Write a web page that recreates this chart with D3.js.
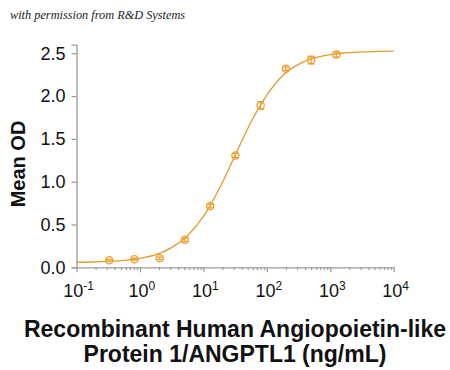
<!DOCTYPE html>
<html><head><meta charset="utf-8">
<script src="https://cdn.jsdelivr.net/npm/d3@7"></script>
<style>body{margin:0;background:#fff}svg{display:block}</style>
</head><body>
<svg id="c" width="450" height="370"></svg>
<script>
// data
const conc = [0.328, 0.819, 2.048, 5.12, 12.8, 32, 80, 200, 500, 1250];
const meanOD = [0.082, 0.095, 0.105, 0.322, 0.715, 1.305, 1.89, 2.32, 2.42, 2.485];
const errOD = [0.012, 0.012, 0.015, 0.02, 0.02, 0.025, 0.045, 0.02, 0.045, 0.03];
// fitted curve
const curveX = [0.1, 0.178, 0.316, 0.562, 1, 1.78, 3.16, 5.62, 10, 17.8, 31.6, 56.2, 100, 178, 316, 562, 1000, 1780, 3160, 5620, 10000];
const curveY = [0.059, 0.062, 0.069, 0.081, 0.105, 0.149, 0.23, 0.369, 0.594, 0.917, 1.307, 1.695, 2.01, 2.24, 2.37, 2.445, 2.485, 2.505, 2.517, 2.523, 2.526];
const yTicks = [0, 0.5, 1.0, 1.5, 2.0, 2.5];
const xTickExp = [-1, 0, 1, 2, 3, 4];
const xTitle = ["Recombinant Human Angiopoietin-like", "Protein 1/ANGPTL1 (ng/mL)"];
const yTitle = "Mean OD";
const credit = "with permission from R&D Systems";

const svg = d3.select("#c");
const x = d3.scaleLog().domain([0.1, 1e4]).range([76.5, 393.7]);
const y = d3.scaleLinear().domain([0, 2.6]).range([267.3, 44.7]);
const orange = "#E49B2C";
const axisCol = "#9a9a9a";

svg.append("text").attr("x", 10).attr("y", 19)
  .attr("font-family", "Liberation Serif, serif").attr("font-style", "italic")
  .attr("font-size", 12.3).attr("fill", "#222").text(credit);

// y axis
const ya = svg.append("g").attr("transform", `translate(${x.range()[0]},0)`)
  .call(d3.axisLeft(y).tickValues(yTicks).tickFormat(d3.format(".1f")).tickSize(5).tickPadding(6));
ya.select(".domain").attr("stroke", axisCol).attr("stroke-width", 1.3);
ya.selectAll(".tick line").attr("stroke", axisCol).attr("stroke-width", 1.2);
ya.selectAll(".tick text").attr("font-family", "Liberation Sans, Arial, sans-serif")
  .attr("font-size", 18).attr("fill", "#111");

// x axis
const minor = [];
for (let e = -1; e < 4; e++) for (let m = 2; m <= 9; m++) minor.push(m * Math.pow(10, e));
const xa = svg.append("g").attr("transform", `translate(0,${y(0)})`)
  .call(d3.axisBottom(x).tickValues(minor).tickFormat("").tickSize(3).tickSizeOuter(0));
xa.select(".domain").attr("stroke", axisCol).attr("stroke-width", 1.3);
xa.selectAll(".tick line").attr("stroke", axisCol).attr("stroke-width", 1);
const xb = svg.append("g").attr("transform", `translate(0,${y(0)})`)
  .call(d3.axisBottom(x).tickValues(xTickExp.map(e => Math.pow(10, e))).tickFormat("").tickSize(5).tickSizeOuter(0));
xb.select(".domain").remove();
xb.selectAll(".tick line").attr("stroke", axisCol).attr("stroke-width", 1.2);

const lbl = svg.append("g").attr("font-family", "Liberation Sans, Arial, sans-serif").attr("fill", "#111");
xTickExp.forEach(e => {
  const t = lbl.append("text").attr("x", x(Math.pow(10, e)) + 2).attr("y", 297)
    .attr("text-anchor", "middle").attr("font-size", 18);
  t.append("tspan").text("10");
  t.append("tspan").attr("font-size", 12).attr("dy", -7).text(String(e));
});

// curve
const line = d3.line().x((d, i) => x(curveX[i])).y(d => y(d)).curve(d3.curveMonotoneX);
svg.append("path").datum(curveY).attr("d", line).attr("fill", "none")
  .attr("stroke", orange).attr("stroke-width", 1.3);

// error bars and markers
const pts = svg.append("g").attr("stroke", "#EFA033").attr("fill", "none").attr("stroke-width", 1.3);
conc.forEach((c, i) => {
  const cx = x(c), lo = y(meanOD[i] - errOD[i]), hi = y(meanOD[i] + errOD[i]);
  pts.append("line").attr("x1", cx).attr("x2", cx).attr("y1", lo).attr("y2", hi);
  pts.append("line").attr("x1", cx - 3.5).attr("x2", cx + 3.5).attr("y1", lo).attr("y2", lo);
  pts.append("line").attr("x1", cx - 3.5).attr("x2", cx + 3.5).attr("y1", hi).attr("y2", hi);
  pts.append("circle").attr("cx", cx).attr("cy", y(meanOD[i])).attr("r", 3.6);
});

// titles
svg.append("text").attr("transform", "translate(25,164) rotate(-90)")
  .attr("text-anchor", "middle").attr("font-family", "Liberation Sans, Arial, sans-serif")
  .attr("font-weight", "bold").attr("font-size", 20).attr("fill", "#111").text(yTitle);
xTitle.forEach((s, i) => {
  svg.append("text").attr("x", 235).attr("y", 337 + i * 25).attr("text-anchor", "middle")
    .attr("font-family", "Liberation Sans, Arial, sans-serif").attr("font-weight", "bold")
    .attr("font-size", 23).attr("fill", "#111").text(s);
});
</script>
</body></html>
